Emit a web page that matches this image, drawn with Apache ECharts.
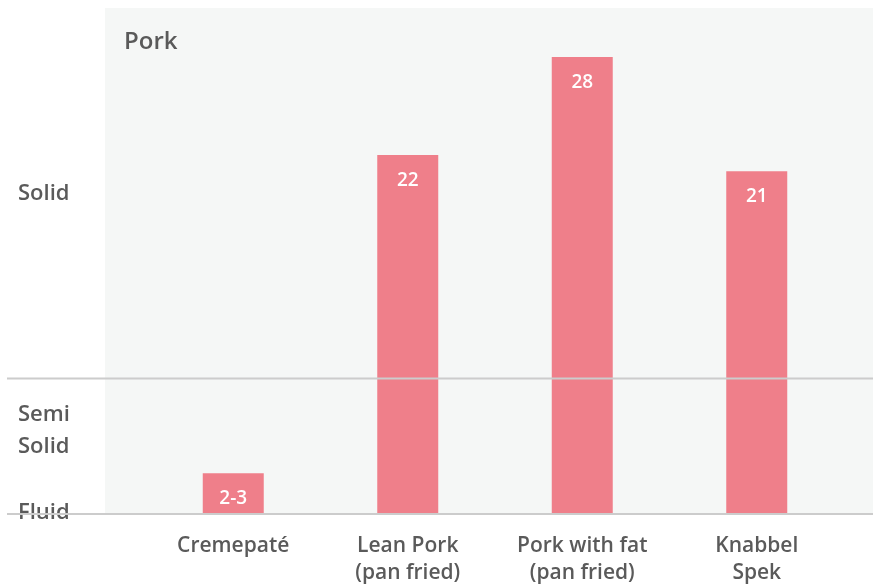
<!DOCTYPE html>
<html>
<head>
<meta charset="utf-8">
<script src="https://cdn.jsdelivr.net/npm/echarts@6/dist/echarts.min.js"></script>
<style>
  html, body { margin: 0; padding: 0; background: #ffffff; }
  #chart { width: 873px; height: 588px; }
</style>
</head>
<body>
<div id="chart"></div>
<script>
// Firmness of pork products after cooking
const categories = ['Cremepaté', 'Lean Pork\n(pan fried)', 'Pork with fat\n(pan fried)', 'Knabbel\nSpek'];
const values = [2.5, 22, 28, 21];
const valueLabels = ['2-3', '22', '28', '21'];

// Consistency bands along the firmness scale
const levelNames = ['Fluid', 'Semi\nSolid', 'Solid'];
const levelLabelValues = [0.1, 5.1, 19.6];
const semiSolidTop = 8.3;
const scaleMax = 31;

const FONT = '"Open Sans", "Noto Sans", sans-serif';
const TEXT = '#5a5a5a';

const chart = echarts.init(document.getElementById('chart'), null, { renderer: 'canvas' });

const option = {
  backgroundColor: '#ffffff',
  animation: false,
  title: {
    text: 'Pork',
    left: 119,
    top: 25,
    textStyle: { color: TEXT, fontFamily: FONT, fontSize: 24, fontWeight: 600 }
  },
  grid: { left: 146, right: 29, top: 8, bottom: 74 },
  xAxis: {
    type: 'category',
    data: categories,
    axisLine: { show: false },
    axisTick: { show: false },
    axisLabel: {
      color: TEXT, fontFamily: FONT, fontSize: 21, fontWeight: 600,
      lineHeight: 27, margin: 19, interval: 0, verticalAlign: 'top'
    }
  },
  yAxis: {
    type: 'value',
    min: 0,
    max: scaleMax,
    splitLine: { show: false },
    axisLine: { show: false },
    axisTick: { show: false },
    axisLabel: {
      customValues: levelLabelValues,
      formatter: function (v) {
        const i = levelLabelValues.indexOf(v);
        return i >= 0 ? levelNames[i] : '';
      },
      align: 'left',
      margin: 128,
      color: TEXT, fontFamily: FONT, fontSize: 22, fontWeight: 600,
      lineHeight: 32
    }
  },
  series: [{
    type: 'bar',
    data: values,
    barWidth: 61,
    itemStyle: { color: '#ef7f8a' },
    z: 3,
    label: {
      show: true,
      position: 'insideTop',
      distance: 16,
      color: '#ffffff',
      fontFamily: FONT,
      fontSize: 19,
      fontWeight: 600,
      formatter: function (p) { return valueLabels[p.dataIndex]; }
    }
  }]
};

chart.setOption(option);

// Panel background, band divider and baseline placed from the value scale
function drawFrame() {
  const yBase = chart.convertToPixel({ yAxisIndex: 0 }, 0);
  const yDivide = chart.convertToPixel({ yAxisIndex: 0 }, semiSolidTop);
  const yTop = chart.convertToPixel({ yAxisIndex: 0 }, scaleMax);
  chart.setOption({
    graphic: [
      {
        type: 'rect', z: -10, silent: true,
        shape: { x: 105, y: yTop, width: 873 - 105, height: yBase - yTop },
        style: { fill: '#f5f7f6' }
      },
      {
        type: 'line', z: 10, silent: true,
        shape: { x1: 7, y1: yDivide, x2: 873, y2: yDivide },
        style: { stroke: '#cccccc', lineWidth: 2 }
      },
      {
        type: 'line', z: 10, silent: true,
        shape: { x1: 7, y1: yBase, x2: 873, y2: yBase },
        style: { stroke: '#cccccc', lineWidth: 2 }
      }
    ]
  });
}
drawFrame();
</script>
</body>
</html>
